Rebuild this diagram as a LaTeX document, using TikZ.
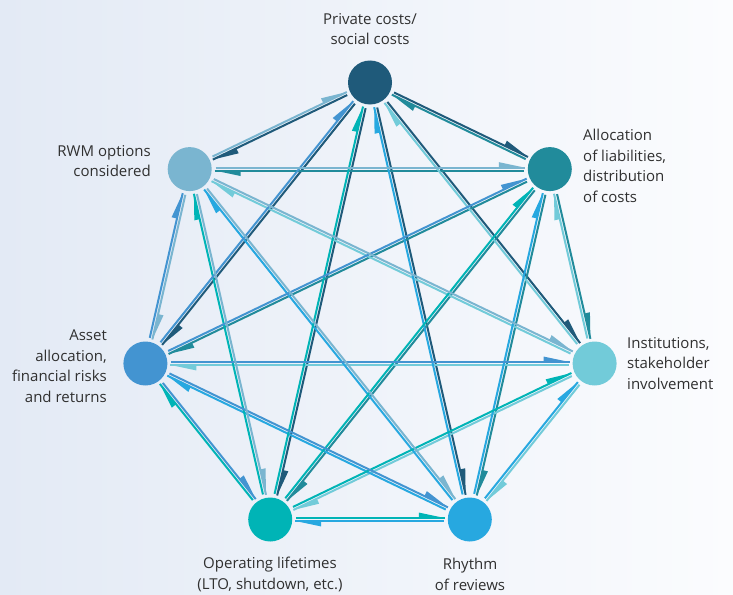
\documentclass[tikz,border=0pt]{standalone}
\usepackage{fontspec}
\setmainfont{Open Sans}
\usetikzlibrary{calc}
\definecolor{c0}{HTML}{1F5A7A}
\definecolor{c1}{HTML}{218B9B}
\definecolor{c2}{HTML}{72CBD9}
\definecolor{c3}{HTML}{27A8E0}
\definecolor{c4}{HTML}{00B4B6}
\definecolor{c5}{HTML}{4394D1}
\definecolor{c6}{HTML}{7AB5D0}
\definecolor{bgL}{HTML}{E3EAF5}
\definecolor{bgR}{HTML}{FBFCFE}
\definecolor{txt}{HTML}{303030}
\newcommand\harp[3]{%
  \coordinate (hs) at ($(#1)!26pt!(#2)$);
  \coordinate (he) at ($(#2)!25pt!(#1)$);
  \coordinate (hs1) at ($(hs)!1.45pt!90:(he)$);
  \coordinate (he1) at ($(he)!1.45pt!-90:(hs)$);
  \coordinate (hb) at ($(he1)!26pt!(hs1)$);
  \coordinate (hw) at ($(hb)!5.5pt!90:(he1)$);
  \draw[#3, line width=2pt] (hs1) -- (he1);
  \fill[#3] (he1) -- (hw) -- (hb) -- cycle;
}
\tikzset{
  dot/.style={circle, minimum size=44pt, inner sep=0pt, draw=none},
  lbl/.style={text=txt, inner sep=0pt, font={\fontsize{15}{20.5}\selectfont}}
}
\begin{document}
\begin{tikzpicture}[x=1pt,y=-1pt]
\useasboundingbox (0,0) rectangle (733,594);
\fill[left color=bgL, right color=bgR] (0,0) rectangle (733,594);
\node[dot, fill=c0] (n0) at (370,82.5) {};
\node[dot, fill=c1] (n1) at (549.8,169.1) {};
\node[dot, fill=c2] (n2) at (594.6,363.5) {};
\node[dot, fill=c3] (n3) at (469.8,519.5) {};
\node[dot, fill=c4] (n4) at (270.2,519.5) {};
\node[dot, fill=c5] (n5) at (145.4,363.5) {};
\node[dot, fill=c6] (n6) at (189.7,169.1) {};
\foreach \i in {0,...,6}{
  \foreach \j in {0,...,6}{
    \ifnum\i=\j\relax\else\harp{n\i}{n\j}{c\i}\fi
  }
}
\node[lbl, anchor=north, align=center] (l0) at (370,13) {Private costs/\\social costs};
\node[lbl, anchor=north west, align=left] (l1) at (583,129) {Allocation\\of liabilities,\\distribution\\of costs};
\node[lbl, anchor=north west, align=left] (l2) at (627,337) {Institutions,\\stakeholder\\involvement};
\node[lbl, anchor=north, align=center] (l3) at (470,558) {Rhythm\\of reviews};
\node[lbl, anchor=north, align=center] (l4) at (270,557) {Operating lifetimes\\(LTO, shutdown, etc.)};
\node[lbl, anchor=north east, align=right] (l5) at (107,330) {Asset\\allocation,\\financial risks\\and returns};
\node[lbl, anchor=north east, align=right] (l6) at (151,145) {RWM options\\considered};
\end{tikzpicture}
\end{document}
